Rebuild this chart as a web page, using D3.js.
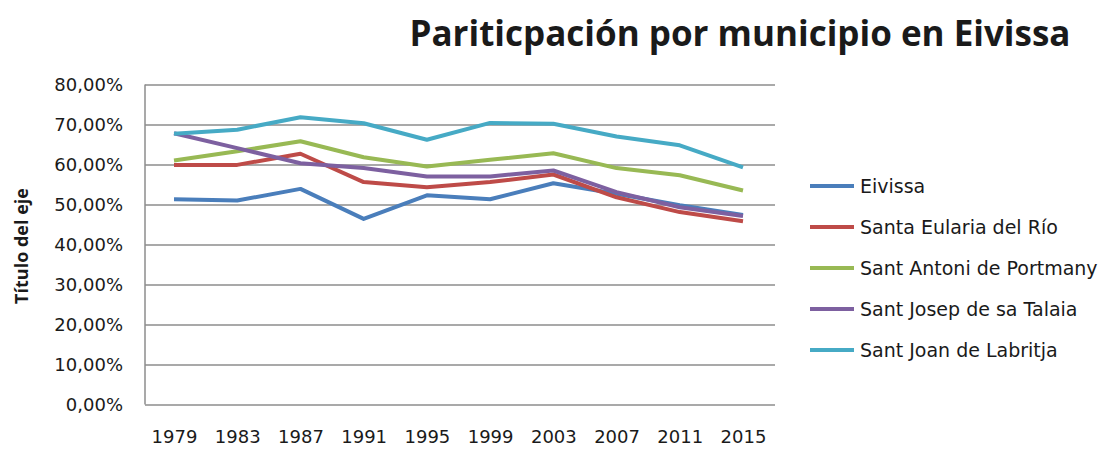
<!DOCTYPE html>
<html>
<head>
<meta charset="utf-8">
<script src="https://cdn.jsdelivr.net/npm/d3@7"></script>
<style>
  body { margin: 0; background: #fff; }
  svg text { font-family: "DejaVu Sans", sans-serif; fill: #1a1a1a; }
  .title { font-family: "Open Sans", sans-serif; font-weight: bold; }
  .ytitle { font-family: "Open Sans", sans-serif; font-weight: bold; }
</style>
</head>
<body>
<svg id="chart" width="1102" height="450"></svg>
<script>
// data
var years = ['1979', '1983', '1987', '1991', '1995', '1999', '2003', '2007', '2011', '2015'];
var seriesNames = ['Eivissa', 'Santa Eularia del Río', 'Sant Antoni de Portmany', 'Sant Josep de sa Talaia', 'Sant Joan de Labritja'];
var eivissa      = [51.3, 51.0, 53.9, 46.4, 52.3, 51.3, 55.3, 52.7, 49.8, 47.4];
var santaEularia = [59.9, 59.9, 62.7, 55.6, 54.3, 55.6, 57.5, 51.8, 48.1, 45.8];
var santAntoni   = [61.0, 63.3, 65.8, 61.8, 59.5, 61.2, 62.8, 59.1, 57.3, 53.5];
var santJosep    = [67.8, 64.1, 60.3, 59.1, 57.0, 57.0, 58.5, 53.1, 49.3, 47.1];
var santJoan     = [67.7, 68.7, 71.8, 70.3, 66.2, 70.4, 70.2, 67.0, 64.8, 59.3];
var yTicks = [0, 10, 20, 30, 40, 50, 60, 70, 80];
var colors = ['#4a7ebb', '#be4b48', '#98b954', '#7d60a0', '#46aac5'];

var allSeries = [eivissa, santaEularia, santAntoni, santJosep, santJoan];

var svg = d3.select('#chart');
var plotLeft = 145, plotRight = 775, plotTop = 84.5, plotBottom = 404.5;

var x = d3.scalePoint().domain(years).range([174, 743]);
var y = d3.scaleLinear().domain([0, 80]).range([plotBottom, plotTop]);

svg.append('text')
    .attr('class', 'title')
    .attr('x', 740)
    .attr('y', 46)
    .attr('text-anchor', 'middle')
    .style('font-size', '35px')
    .text('Pariticpación por municipio en Eivissa');

//gridlines + tick labels
var yAxis = svg.append('g')
    .attr('transform', 'translate(' + plotLeft + ',0)')
    .call(d3.axisLeft(y).tickValues(yTicks).tickSize(-(plotRight - plotLeft)).tickPadding(22)
        .tickFormat(function(d) { return d3.format('.2f')(d).replace('.', ',') + '%'; }));
yAxis.select('.domain').remove();
yAxis.selectAll('line').attr('stroke', '#8c8c8c').attr('stroke-width', 1.5);
yAxis.selectAll('text').style('font-size', '18px').style('font-family', '"DejaVu Sans", sans-serif').attr('fill', '#1a1a1a');

svg.append('line')
    .attr('x1', plotLeft).attr('x2', plotLeft).attr('y1', plotTop).attr('y2', plotBottom)
    .attr('stroke', '#8c8c8c').attr('stroke-width', 1.5);

var xAxis = svg.append('g')
    .attr('transform', 'translate(0,' + plotBottom + ')')
    .call(d3.axisBottom(x).tickSize(0).tickPadding(26));
xAxis.select('.domain').remove();
xAxis.selectAll('text').style('font-size', '18px').style('font-family', '"DejaVu Sans", sans-serif').attr('fill', '#1a1a1a');

svg.append('text')
    .attr('class', 'ytitle')
    .attr('transform', 'translate(28,246) rotate(-90)')
    .attr('text-anchor', 'middle')
    .style('font-size', '18px')
    .text('Título del eje');

var line = d3.line()
    .x(function(d, i) { return x(years[i]); })
    .y(function(d) { return y(d); });

svg.append('g').selectAll('path')
    .data(allSeries)
    .enter().append('path')
    .attr('d', line)
    .attr('fill', 'none')
    .attr('stroke', function(d, i) { return colors[i]; })
    .attr('stroke-width', 4)
    .attr('stroke-linejoin', 'round');

//legend
var legend = svg.append('g').selectAll('g')
    .data(seriesNames)
    .enter().append('g')
    .attr('transform', function(d, i) { return 'translate(810,' + (186 + i * 41) + ')'; });

legend.append('line')
    .attr('x1', 0).attr('x2', 44)
    .attr('stroke', function(d, i) { return colors[i]; })
    .attr('stroke-width', 4);

legend.append('text')
    .attr('x', 50)
    .attr('dy', '0.35em')
    .style('font-size', '19px')
    .text(function(d) { return d; });
</script>
</body>
</html>
